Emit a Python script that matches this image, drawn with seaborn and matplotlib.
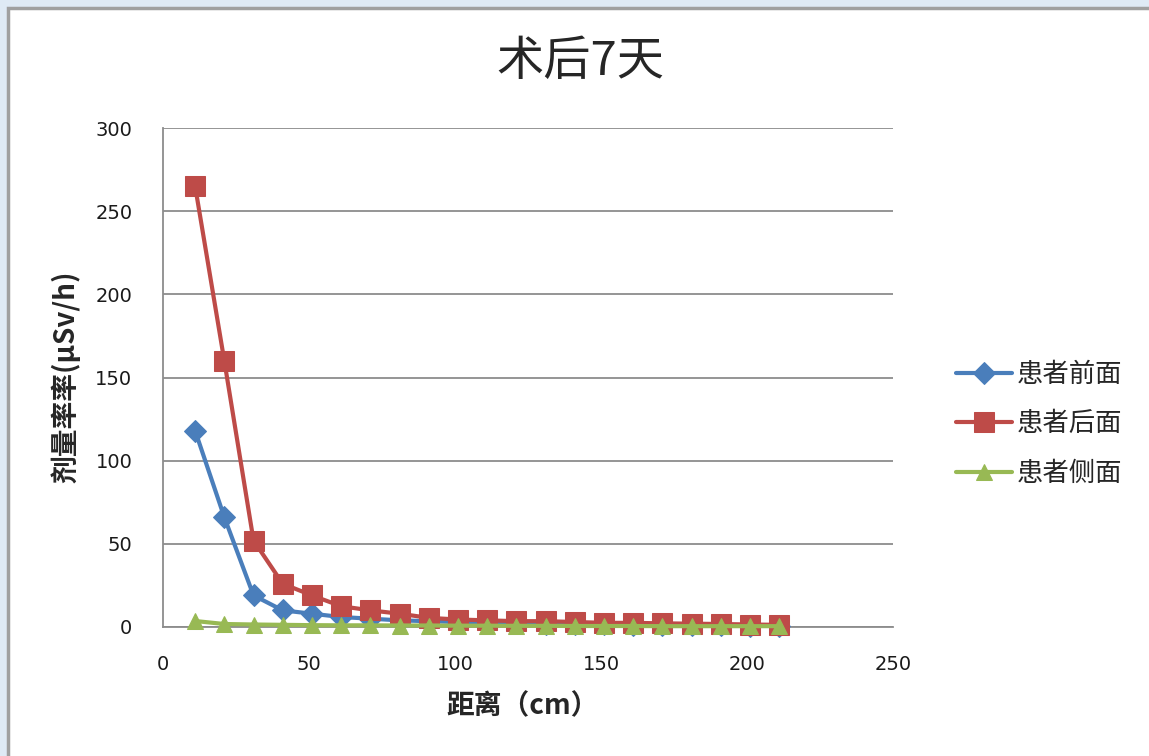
import matplotlib
matplotlib.use("Agg")
import matplotlib.pyplot as plt
import matplotlib.patches as mpatches
import seaborn as sns
import pandas as pd

# Distance from patient (cm)
distance = [11, 21, 31, 41, 51, 61, 71, 81, 91, 101, 111,
            121, 131, 141, 151, 161, 171, 181, 191, 201, 211]

# Dose rate (μSv/h) measured at each position
front = [118, 66, 19, 10, 8, 6, 5, 4, 3.5, 3, 2.5,
         2.2, 2, 1.8, 1.6, 1.4, 1.2, 1.1, 1, 0.9, 0.8]
back = [265, 160, 52, 26, 19, 12.5, 10, 8, 5.5, 4.5, 4,
        3.5, 3.5, 3, 2.5, 2.5, 2.2, 2, 1.8, 1.5, 1.3]
side = [3.6, 1.8, 1.5, 1.3, 1.1, 1, 1, 0.9, 0.9, 0.8, 0.8,
        0.7, 0.7, 0.6, 0.6, 0.6, 0.5, 0.5, 0.5, 0.5, 0.5]

series_names = ["患者前面", "患者后面", "患者侧面"]
colors = ["#4a7ebb", "#be4b48", "#98b954"]
markers = ["D", "s", "^"]
marker_sizes = [11, 14, 12]

title = "术后7天"
xlabel = "距离（cm）"
ylabel = "剂量率率(μSv/h)"
xticks = [0, 50, 100, 150, 200, 250]
yticks = [0, 50, 100, 150, 200, 250, 300]

sns.set_theme(style="white")
plt.rcParams["font.family"] = ["Noto Sans CJK SC", "DejaVu Sans"]

fig = plt.figure(figsize=(11.49, 7.56), dpi=100)
fig.patch.set_facecolor("#dfeaf5")

# white chart panel with a grey frame on its top and left edges
panel = mpatches.Rectangle((8 / 1149, -0.05), 1.05, 1.05 - 8 / 756,
                           transform=fig.transFigure, facecolor="white",
                           edgecolor="#a0a0a0", linewidth=2.5, zorder=-10)
fig.patches.append(panel)

ax = fig.add_axes([163 / 1149, 1 - 627 / 756, 730 / 1149, 499 / 756])
ax.set_facecolor("none")

frames = []
for name, vals in zip(series_names, [front, back, side]):
    frames.append(pd.DataFrame({"distance": distance, "rate": vals, "series": name}))
df = pd.concat(frames, ignore_index=True)

for name, c, m, ms in zip(series_names, colors, markers, marker_sizes):
    sub = df[df["series"] == name]
    sns.lineplot(data=sub, x="distance", y="rate", ax=ax, color=c,
                 linewidth=3.0, marker=m, markersize=ms, markeredgecolor=c,
                 label=name, zorder=3, clip_on=False)

ax.set_xlim(0, 250)
ax.set_ylim(0, 300)
ax.set_xticks(xticks)
ax.set_yticks(yticks)
ax.tick_params(axis="both", labelsize=14, length=0,
               labelfontfamily="DejaVu Sans", labelcolor="#1a1a1a")
ax.tick_params(axis="y", pad=22)
ax.tick_params(axis="x", pad=20)
ax.grid(axis="y", color="#8c8c8c", linewidth=1.3)
ax.grid(axis="x", visible=False)
for side_name in ["top", "right"]:
    ax.spines[side_name].set_visible(False)
for side_name in ["left", "bottom"]:
    ax.spines[side_name].set_color("#8c8c8c")
    ax.spines[side_name].set_linewidth(1.3)

ax.set_xlabel("")
ax.set_ylabel("")
fig.text(523 / 1149, 1 - 706 / 756, xlabel, ha="center", va="center",
         fontsize=20, fontweight="bold")
fig.text(66 / 1149, 1 - 377 / 756, ylabel, ha="center", va="center",
         rotation=90, fontsize=20, fontweight="bold")
fig.text(580 / 1149, 1 - 62 / 756, title, ha="center", va="center",
         fontsize=34, fontweight="medium")

leg = ax.legend(loc="center left", bbox_to_anchor=(1.072, 0.407), frameon=False,
                fontsize=19, handlelength=2.1, handletextpad=0.2,
                labelspacing=0.85, numpoints=1, borderaxespad=0)
for h in leg.legend_handles:
    h.set_linewidth(3.0)

fig.savefig("out.png", dpi=100, facecolor=fig.get_facecolor())
